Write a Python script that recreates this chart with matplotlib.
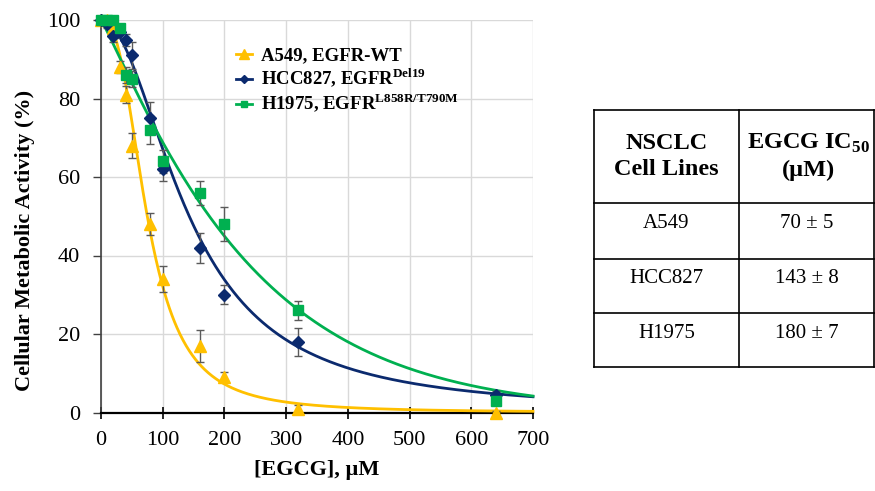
'''
Purpose: Dose-response of NSCLC cell lines to EGCG, with a side table of IC50 values.
'''
# =====================================================================
# Import required modules
# =====================================================================
import numpy as np
import matplotlib
matplotlib.use('Agg')
import matplotlib.pyplot as plt
from matplotlib.lines import Line2D

plt.rcParams['font.family'] = ['Liberation Serif', 'DejaVu Serif']
plt.rcParams['mathtext.fontset'] = 'custom'
plt.rcParams['mathtext.rm'] = 'Liberation Serif'
plt.rcParams['mathtext.bf'] = 'Liberation Serif:bold'

# =====================================================================
# Data
# =====================================================================
egcg_conc = [0, 10, 20, 30, 40, 50, 80, 100, 160, 200, 320, 640]

a549_act = [100, 100, 98, 88, 81, 68, 48, 34, 17, 9, 1, 0]
a549_err = [0.5, 0.5, 1, 1.5, 2.1, 3.2, 2.9, 3.2, 4.1, 1.2, 0.8, 0.5]

hcc827_act = [100, 99, 96, 97, 95, 91, 75, 62, 42, 30, 18, 4.5]
hcc827_err = [0.5, 1, 1.7, 1.5, 1.5, 3.4, 4, 3, 3.8, 2.4, 3.5, 1]

h1975_act = [100, 100, 100, 98, 86, 85, 72, 64, 56, 48, 26, 3]
h1975_err = [0.5, 0.5, 0.5, 1, 2, 2, 3.5, 3, 3.1, 4.3, 2.5, 0.5]

series_labels = ['A549, EGFR-WT',
                 'HCC827, EGFR$^{\\mathbf{Del19}}$',
                 'H1975, EGFR$^{\\mathbf{L858R/T790M}}$']
series_colors = ['#FFC000', '#0B2A6E', '#00B050']
series_markers = ['^', 'D', 's']
series_msize = [9, 6, 6.5]

# fitted curve parameters (model, scale, shape)
fit_model = ['hill', 'hill', 'weibull']
fit_scale = [75, 143, 245]
fit_shape = [2.6, 2.0, 1.1]

# side table
table_header = ['NSCLC\nCell Lines', 'EGCG IC$_{\\mathbf{50}}$\n(\u00b5M)']
table_lines = ['A549', 'HCC827', 'H1975']
table_ic50 = ['70 \u00b1 5', '143 \u00b1 8', '180 \u00b1 7']


# =====================================================================
# Fitted curve
# =====================================================================
def fit_curve(x, model, scale, shape):
    if model == 'hill':
        return 100.0 / (1.0 + (x / scale) ** shape)
    return 100.0 * np.exp(-(x / scale) ** shape)


# =====================================================================
# Define Main Function
# =====================================================================
def main():
    W, H = 875, 491
    fig = plt.figure(figsize=(W / 100, H / 100), dpi=100)

    # main axes, placed by pixel positions of the reference
    left, right, top, bottom = 101, 533, 20, 412.5
    ax = fig.add_axes([left / W, 1 - bottom / H, (right - left) / W, (bottom - top) / H])

    acts = [a549_act, hcc827_act, h1975_act]
    errs = [a549_err, hcc827_err, h1975_err]
    xs = np.linspace(0, 700, 701)
    handles = []
    for i in range(3):
        ax.plot(xs, fit_curve(xs, fit_model[i], fit_scale[i], fit_shape[i]),
                color=series_colors[i], lw=2, zorder=3, clip_on=False)
        ax.errorbar(egcg_conc, acts[i], yerr=errs[i], fmt='none', ecolor='#5a5a5a',
                    elinewidth=1, capsize=3, capthick=1, zorder=4, clip_on=False)
        ax.plot(egcg_conc, acts[i], ls='none', marker=series_markers[i],
                ms=series_msize[i], color=series_colors[i], mec=series_colors[i],
                zorder=5, clip_on=False)
        handles.append(Line2D([], [], color=series_colors[i], lw=2,
                              marker=series_markers[i], ms=series_msize[i] * 0.75))

    ax.set_xlim(0, 700)
    ax.set_ylim(0, 100)
    ax.set_xticks(range(0, 701, 100))
    ax.set_yticks(range(0, 101, 20))
    ax.grid(True, color='#d9d9d9', lw=1)
    ax.set_axisbelow(True)
    for s in ['top', 'right']:
        ax.spines[s].set_visible(False)
    ax.spines['left'].set_color('#404040')
    ax.spines['left'].set_linewidth(1.2)
    ax.spines['bottom'].set_color('black')
    ax.spines['bottom'].set_linewidth(1.6)
    ax.tick_params(axis='y', direction='out', length=6, width=1, color='#404040',
                   labelsize=16, pad=9)
    ax.tick_params(axis='x', direction='inout', length=8, width=1.2, color='black',
                   labelsize=16, pad=9)

    fig.text(25 / W, 1 - 240 / H, 'Cellular Metabolic Activity (%)', rotation=90,
             fontsize=16, fontweight='bold', ha='center', va='center')
    fig.text(317 / W, 1 - 470 / H, '[EGCG], \u00b5M', fontsize=16, fontweight='bold',
             ha='center', va='center')

    ax.legend(handles, series_labels, loc='upper left',
              bbox_to_anchor=((228 - left) / (right - left), (bottom - 40) / (bottom - top)),
              frameon=False, handlelength=0.9, handletextpad=0.45,
              labelspacing=0.1, borderaxespad=0,
              prop={'size': 13.5, 'weight': 'bold'})

    # side table
    t_left, t_right, t_mid = 594, 874, 739
    rows = [109.5, 203, 258.5, 313, 367]
    tax = fig.add_axes([0, 0, 1, 1])
    tax.set_xlim(0, W)
    tax.set_ylim(H, 0)
    tax.axis('off')
    for yy in rows:
        tax.plot([t_left, t_right], [yy, yy], color='black', lw=1.2)
    for xx in [t_left, t_mid, t_right]:
        tax.plot([xx, xx], [rows[0], rows[-1]], color='black', lw=1.2)
    c1 = (t_left + t_mid) / 2
    c2 = (t_mid + t_right) / 2
    hy = (rows[0] + rows[1]) / 2
    tax.text(c1, hy, table_header[0], ha='center', va='center', fontsize=17.5,
             fontweight='bold', linespacing=1.3)
    tax.text(c2 + 2, hy, table_header[1], ha='center', va='center', fontsize=17.5,
             fontweight='bold', linespacing=1.3)
    for r in range(3):
        yy = (rows[r + 1] + rows[r + 2]) / 2 - 7
        tax.text(c1, yy, table_lines[r], ha='center', va='center', fontsize=15)
        tax.text(c2, yy, table_ic50[r], ha='center', va='center', fontsize=15)

    fig.savefig('out.png', dpi=100)
    plt.close(fig)


if __name__ == '__main__':
    main()
